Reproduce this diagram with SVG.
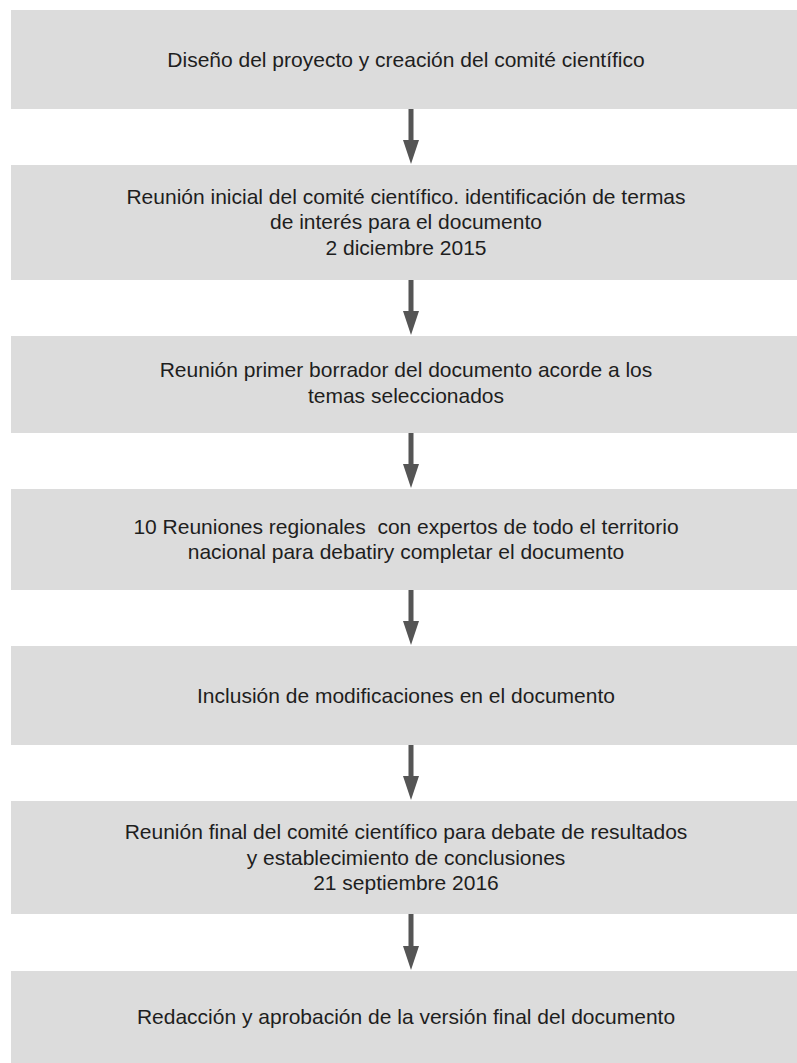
<svg xmlns="http://www.w3.org/2000/svg" width="797" height="1063" viewBox="0 0 797 1063">
<style>
.box{fill:#dcdcdc}
.t{font-family:"Liberation Sans",Arial,Helvetica,sans-serif;font-size:21px;fill:#1e1e1e;text-anchor:middle}
.sh{fill:#555555}
</style>
<rect width="797" height="1063" fill="#ffffff"/>
<g id="connectors">
<g id="a1"><rect class="sh" x="408.5" y="109" width="5" height="34"/><polygon class="sh" points="403,140 419,140 411,164"/></g>
<g id="a2"><rect class="sh" x="408.5" y="280" width="5" height="34"/><polygon class="sh" points="403,311 419,311 411,335"/></g>
<g id="a3"><rect class="sh" x="408.5" y="433" width="5" height="34"/><polygon class="sh" points="403,464 419,464 411,488"/></g>
<g id="a4"><rect class="sh" x="408.5" y="590" width="5" height="34"/><polygon class="sh" points="403,621 419,621 411,645"/></g>
<g id="a5"><rect class="sh" x="408.5" y="745" width="5" height="34"/><polygon class="sh" points="403,776 419,776 411,800"/></g>
<g id="a6"><rect class="sh" x="408.5" y="914" width="5" height="34"/><polygon class="sh" points="403,946 419,946 411,970"/></g>
</g>
<g id="n1"><rect class="box" x="11" y="10" width="786" height="99"/>
<text class="t" x="406" y="67">Diseño del proyecto y creación del comité científico</text></g>
<g id="n2"><rect class="box" x="11" y="165" width="786" height="115"/>
<text class="t" x="406" y="203.5">Reunión inicial del comité científico. identificación de termas</text>
<text class="t" x="406" y="229">de interés para el documento</text>
<text class="t" x="406" y="254.5">2 diciembre 2015</text></g>
<g id="n3"><rect class="box" x="11" y="336" width="786" height="97"/>
<text class="t" x="406" y="377">Reunión primer borrador del documento acorde a los</text>
<text class="t" x="406" y="402.5">temas seleccionados</text></g>
<g id="n4"><rect class="box" x="11" y="489" width="786" height="101"/>
<text class="t" x="406" y="533.75" xml:space="preserve">10 Reuniones regionales  con expertos de todo el territorio</text>
<text class="t" x="406" y="559.25">nacional para debatiry completar el documento</text></g>
<g id="n5"><rect class="box" x="11" y="646" width="786" height="99"/>
<text class="t" x="406" y="702.5">Inclusión de modificaciones en el documento</text></g>
<g id="n6"><rect class="box" x="11" y="801" width="786" height="113"/>
<text class="t" x="406" y="839">Reunión final del comité científico para debate de resultados</text>
<text class="t" x="406" y="864.5">y establecimiento de conclusiones</text>
<text class="t" x="406" y="890">21 septiembre 2016</text></g>
<g id="n7"><rect class="box" x="11" y="971" width="786" height="92"/>
<text class="t" x="406" y="1024">Redacción y aprobación de la versión final del documento</text></g>
</svg>
